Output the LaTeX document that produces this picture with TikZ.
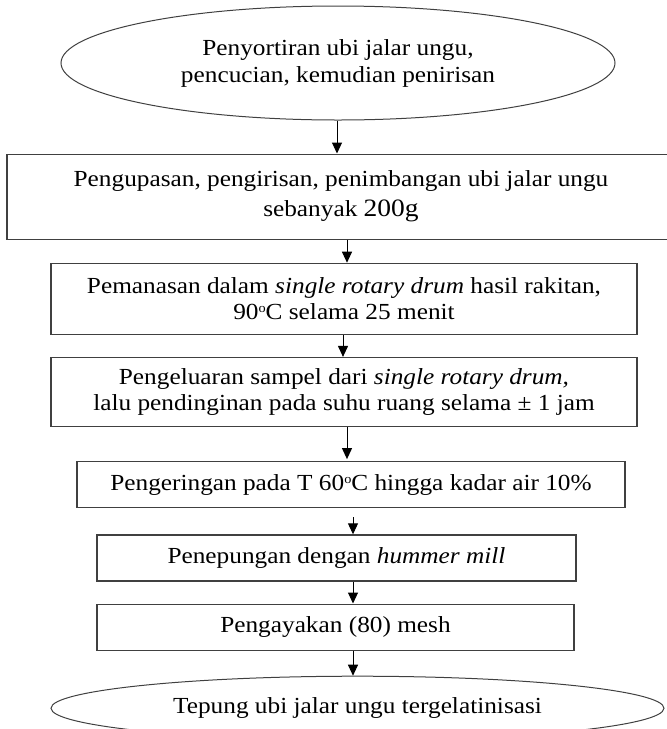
\documentclass[tikz,border=0pt]{standalone}
\usepackage{fontspec}
\setmainfont{Liberation Serif}[FakeStretch=1.1]
\usetikzlibrary{arrows.meta,positioning,shapes.geometric}

\begin{document}
\begin{tikzpicture}[
    node distance=23pt,
    proc/.style={
      rectangle, draw=black!75, line width=1.2pt,
      text centered, align=center, inner sep=0pt,
      font=\fontsize{23}{26}\selectfont
    },
    term/.style={
      ellipse, draw=black!75, line width=1pt,
      text centered, align=center, inner sep=0pt,
      font=\fontsize{23}{27}\selectfont
    },
    arrow/.style={-{Triangle[length=11pt,width=10pt]}, line width=1pt}
  ]
  \useasboundingbox (0,0) rectangle (667pt,-729pt);

  \node[term, minimum width=554pt, minimum height=114pt] (sort) at (338pt,-63pt)
    {\raisebox{3pt}{Penyortiran ubi jalar ungu,}\\ \raisebox{3pt}{pencucian, kemudian penirisan}};
  \node[proc, below=33pt of sort, xshift=3pt, minimum width=668pt, minimum height=85pt] (peel)
    {Pengupasan, pengirisan, penimbangan ubi jalar ungu\\[4pt] sebanyak {\fontsize{25}{26}\selectfont 200g}};
  \node[proc, below=23pt of peel, xshift=3pt, minimum width=586pt, minimum height=71pt] (heat)
    {Pemanasan dalam \textit{single rotary drum} hasil rakitan,\\ 90{\fontsize{13}{13}\selectfont\raisebox{7pt}{o}}C selama 25 menit};
  \node[proc, below=22pt of heat, minimum width=586pt, minimum height=69pt] (cool)
    {Pengeluaran sampel dari \textit{single rotary drum,}\\ lalu pendinginan pada suhu ruang selama ± 1 jam};
  \node[proc, below=34pt of cool, xshift=7pt, minimum width=548pt, minimum height=46pt] (dry)
    {Pengeringan pada T 60{\fontsize{13}{13}\selectfont\raisebox{7pt}{o}}C hingga kadar air 10\%};
  \node[proc, below=26pt of dry, xshift=-14.5pt, minimum width=479pt, minimum height=46pt] (mill)
    {Penepungan dengan \textit{hummer mill}};
  \node[proc, below=22pt of mill, xshift=-1pt, minimum width=477pt, minimum height=46pt] (sieve)
    {Pengayakan (80) mesh};
  \node[term, below=25pt of sieve, xshift=22pt, minimum width=613pt, minimum height=64pt] (flour)
    {Tepung ubi jalar ungu tergelatinisasi};

  \draw[arrow] ([xshift=-1pt]sort.south) -- ([xshift=-1pt]sort.south |- peel.north);
  \draw[arrow] ([xshift=6pt]peel.south) -- ([xshift=6pt]peel.south |- heat.north);
  \draw[arrow] ([xshift=-1pt]heat.south) -- ([xshift=-1pt]heat.south |- cool.north);
  \draw[arrow, shorten >=2pt] ([xshift=3pt]cool.south) -- ([xshift=3pt]cool.south |- dry.north);
  \draw[arrow, shorten <=9pt] ([xshift=2pt]dry.south) -- ([xshift=2pt]dry.south |- mill.north);
  \draw[arrow] ([xshift=16.5pt]mill.south) -- ([xshift=16.5pt]mill.south |- sieve.north);
  \draw[arrow] ([xshift=17.5pt]sieve.south) -- ([xshift=17.5pt]sieve.south |- flour.north);
\end{tikzpicture}
\end{document}
